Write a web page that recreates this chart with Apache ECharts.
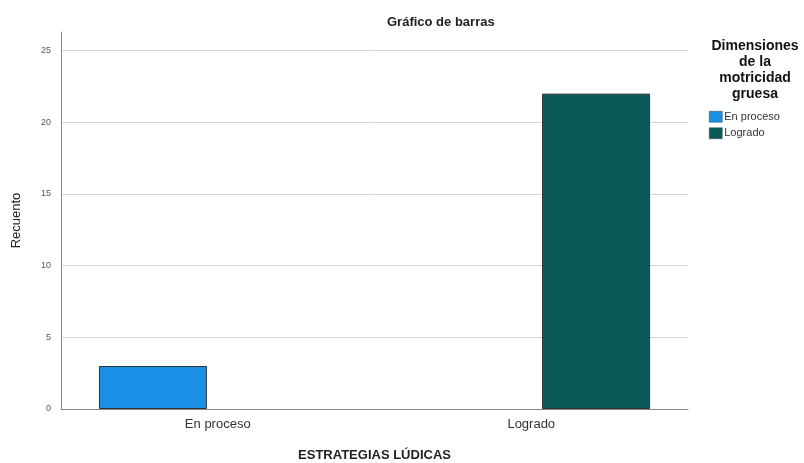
<!DOCTYPE html>
<html>
<head>
<meta charset="utf-8">
<script src="https://cdn.jsdelivr.net/npm/echarts@6/dist/echarts.min.js"></script>
<style>
  html, body { margin: 0; padding: 0; background: #fff; }
  #chart { width: 804px; height: 463px; }
</style>
</head>
<body>
<div id="chart"></div>
<script>
// datos (null = sin barra)
var categorias = ['En proceso', 'Logrado'];
var serieNombres = ['En proceso', 'Logrado'];
var enProceso = [3, null];
var logrado = [null, 22];
var lineasY = [5, 10, 15, 20, 25];

var colores = ['#1a8fe6', '#0b5a5a'];
var fuente = 'Liberation Sans';

var myChart = echarts.init(document.getElementById('chart'));

var option = {
	animation: false,
	color: colores,
	textStyle: { fontFamily: fuente },
	title: [{
		text: 'Gráfico de barras',
		left: 382, top: 11,
		textStyle: { fontSize: 13, fontWeight: 'bold', color: '#222', fontFamily: fuente }
	}, {
		text: 'Dimensiones\nde la\nmotricidad\ngruesa',
		left: 750, top: 33,
		textAlign: 'center',
		textStyle: { fontSize: 14, fontWeight: 'bold', color: '#111', lineHeight: 16, fontFamily: fuente }
	}],
	legend: {
		orient: 'vertical',
		left: 704, top: 106,
		itemWidth: 13, itemHeight: 11, itemGap: 5,
		icon: 'rect',
		data: serieNombres,
		itemStyle: { borderColor: '#444', borderWidth: 0.5 },
		textStyle: { fontSize: 11, color: '#333', padding: [0, 0, 0, -3] }
	},
	grid: { left: 61, right: 116, top: 32, bottom: 54, outerBoundsMode: 'none', containLabel: false },
	xAxis: {
		type: 'category',
		data: categorias,
		name: 'ESTRATEGIAS LÚDICAS',
		nameLocation: 'middle',
		nameGap: 40,
		nameTextStyle: { fontSize: 13, fontWeight: 'bold', color: '#222' },
		axisLine: { lineStyle: { color: '#888' } },
		axisTick: { show: false },
		axisLabel: { fontSize: 13, color: '#333', margin: 9 }
	},
	yAxis: {
		type: 'value',
		min: 0, max: 26.3, interval: 5,
		name: 'Recuento',
		nameLocation: 'middle',
		nameGap: 38,
		nameTextStyle: { fontSize: 13, color: '#222' },
		axisLine: { show: true, lineStyle: { color: '#888' } },
		axisTick: { show: false },
		splitLine: { show: false },
		axisLabel: {
			fontSize: 9, color: '#555', margin: 10,
			formatter: function(v) { return v % 5 === 0 ? v : ''; }
		}
	},
	series: [{
		name: serieNombres[0],
		type: 'bar',
		data: enProceso,
		barWidth: 108,
		barGap: '20%',
		itemStyle: { borderColor: '#333', borderWidth: 1 },
		markLine: {
			silent: true,
			symbol: 'none',
			label: { show: false },
			lineStyle: { color: '#d4d4d4', type: 'solid', width: 1 },
			data: lineasY.map(function(v) { return { yAxis: v }; }),
			z: 0
		},
		z: 3
	}, {
		name: serieNombres[1],
		type: 'bar',
		data: logrado,
		barWidth: 108,
		barGap: '20%',
		itemStyle: { borderColor: '#333', borderWidth: 1 },
		z: 3
	}]
};

myChart.setOption(option);
</script>
</body>
</html>
